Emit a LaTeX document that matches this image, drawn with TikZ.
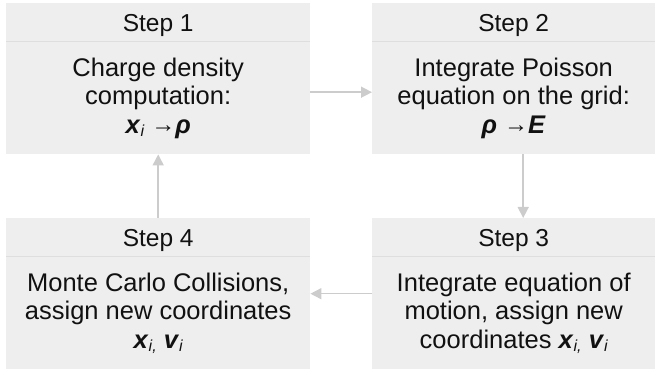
\documentclass[tikz,border=0pt]{standalone}
\usepackage{fontspec}
\setmainfont{Liberation Sans}
\usetikzlibrary{arrows.meta}
\definecolor{boxfill}{HTML}{EEEEEE}
\definecolor{sepline}{HTML}{DEDEDE}
\definecolor{arrowgray}{HTML}{CCCCCC}
\definecolor{txt}{HTML}{111111}
\newcommand{\bv}[1]{\textbf{\textit{#1}}}
\newcommand{\sbi}[1]{\raisebox{-0.12em}{\fontsize{16}{16}\selectfont\itshape #1}}
\newcommand{\arrsym}{{\fontsize{24}{24}\selectfont\raisebox{0.02em}{→}}}
\begin{document}
\begin{tikzpicture}[x=1pt,y=1pt,
  box/.style={draw=none,fill=boxfill,minimum height=151pt,inner sep=0pt,anchor=north west},
  head/.style={font=\fontsize{24.5}{28}\selectfont, text=txt, anchor=base},
  body/.style={font=\fontsize{25.5}{28.5}\selectfont, text=txt, align=center},
  conn/.style={draw=arrowgray, fill=arrowgray, line width=1.5pt, -{Triangle[length=11pt,width=11pt]}},
  sep/.style={draw=sepline, line width=0.8pt}]
\useasboundingbox (0,0) rectangle (656,371);
\node[box,minimum width=304pt] (b1) at (6,368) {};
\node[box,minimum width=283pt] (b2) at (372,368) {};
\node[box,minimum width=283pt] (b3) at (372,153) {};
\node[box,minimum width=304pt] (b4) at (6,153) {};
\foreach \b in {b1,b2,b3,b4}{
  \draw[sep] ([yshift=-38.5pt]\b.north west) -- ([yshift=-38.5pt]\b.north east);
}
\node[head] (h1) at ([yshift=-28.7pt]b1.north) {Step 1};
\node[head] (h2) at ([yshift=-28.7pt]b2.north) {Step 2};
\node[head] (h3) at ([yshift=-28.7pt]b3.north) {Step 3};
\node[head] (h4) at ([yshift=-28.7pt]b4.north) {Step 4};
\node[body] (t1) at ([yshift=-95pt]b1.north) {Charge density\\computation:\\\bv{x}\sbi{i}\ \arrsym\bv{ρ}};
\node[body] (t2) at ([yshift=-95pt]b2.north) {Integrate Poisson\\equation on the grid:\\\bv{ρ}\ \arrsym\bv{E}};
\node[body] (t3) at ([yshift=-95pt]b3.north) {Integrate equation of\\motion, assign new\\coordinates \bv{x}\sbi{i,} \bv{v}\sbi{i}};
\node[body] (t4) at ([yshift=-95pt]b4.north) {Monte Carlo Collisions,\\assign new coordinates\\\bv{x}\sbi{i,} \bv{v}\sbi{i}};
\draw[conn] ([yshift=-13.5pt]b1.east) -- ([yshift=-13.5pt]b2.west);
\draw[conn] ([xshift=9.5pt]b2.south) -- ([xshift=9.5pt]b3.north);
\draw[conn] (b3.west) -- (b4.east);
\draw[conn] (b4.north) -- (b1.south);
\end{tikzpicture}
\end{document}
